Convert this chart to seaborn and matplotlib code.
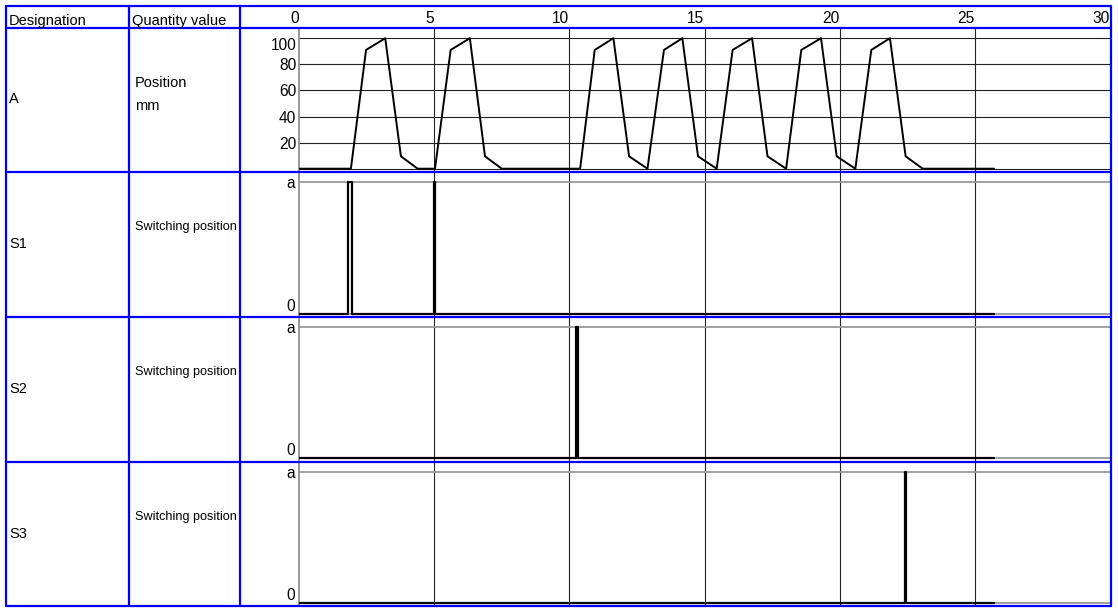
import numpy as np
import pandas as pd
import matplotlib
matplotlib.use("Agg")
import matplotlib.pyplot as plt
import seaborn as sns
from matplotlib.lines import Line2D

# ── Data ──
TIME_TICKS = [0, 5, 10, 15, 20, 25, 30]
END_TIME = 25.71

# Cylinder A position profile (time in s, position in mm)
a_time = [0,
          1.92, 2.48, 3.19, 3.77, 4.39,
          5.03, 5.61, 6.32, 6.88, 7.50,
          10.40, 10.94, 11.63, 12.21, 12.89,
          13.50, 14.18, 14.76, 15.45,
          16.04, 16.76, 17.33, 18.02,
          18.58, 19.31, 19.89, 20.58,
          21.17, 21.86, 22.44, 23.07,
          25.71]
a_pos = [0,
         0, 91, 100, 9.5, 0,
         0, 91, 100, 9.5, 0,
         0, 91, 100, 9.5, 0,
         91, 100, 9.5, 0,
         91, 100, 9.5, 0,
         91, 100, 9.5, 0,
         91, 100, 9.5, 0,
         0]
a_yticks = [20, 40, 60, 80, 100]

# Switch pulses: (on, off) times
s1_pulses = [(1.83, 1.95), (4.98, 5.02)]
s2_pulses = [(10.24, 10.31)]
s3_pulses = [(22.40, 22.46)]

designations = ["A", "S1", "S2", "S3"]
quantities = ["Position\nmm", "Switching position", "Switching position", "Switching position"]
headers = ["Designation", "Quantity value"]

# ── Layout in pixels ──
W, H = 1118, 612
X_PLOT0, X_PLOT1 = 299, 1110
ROWS = [6, 28.3, 171.7, 316.7, 461.5, 605.7]
COLS = [6, 128.7, 239.7, 1110.5]
BLUE = "#0000FF"

sns.set_style("white")
plt.rcParams["font.family"] = ["Liberation Sans", "DejaVu Sans"]
plt.rcParams.update({
    "font.size": 10.5,
    "text.color": "black",
    "xtick.labelcolor": "black",
    "ytick.labelcolor": "black",
    "xtick.labelsize": 11.2,
    "ytick.labelsize": 11.2,
})


def fx(x):
    return x / W


def fy(y):
    return 1 - y / H


def pulse_frame(pulses):
    t, v = [0], [0]
    for on, off in pulses:
        t += [on, off]
        v += [1, 0]
    t.append(END_TIME)
    v.append(0)
    return pd.DataFrame({"t": t, "v": v})


fig = plt.figure(figsize=(W / 100, H / 100), dpi=100)

axes = []
for i in range(4):
    top, bot = ROWS[i + 1], ROWS[i + 2]
    ax = fig.add_axes([fx(X_PLOT0), fy(bot), fx(X_PLOT1 - X_PLOT0), (bot - top) / H])
    ax.set_xlim(0, 30)
    for s in ["top", "right", "bottom"]:
        ax.spines[s].set_visible(False)
    ax.spines["left"].set_color("#888888")
    ax.spines["left"].set_linewidth(1.2)
    ax.tick_params(length=0)
    ax.set_xticks(TIME_TICKS)
    for t in TIME_TICKS[1:-1]:
        ax.axvline(t, color="#222222", lw=0.8, zorder=1)
    axes.append(ax)

# ── Panel A: position ──
ax = axes[0]
df_a = pd.DataFrame({"t": a_time, "pos": a_pos})
sns.lineplot(data=df_a, x="t", y="pos", ax=ax, color="black", lw=1.4,
             estimator=None, sort=False, zorder=3)
ax.set_ylim(-2.3, 107.6)
ax.set_yticks(a_yticks)
for yv in [0] + a_yticks:
    ax.axhline(yv, color="#222222", lw=0.8, zorder=1)
ax.xaxis.tick_top()
ax.set_xticklabels([str(t) for t in TIME_TICKS], ha="right")
ax.tick_params(axis="x", pad=1.5)
ax.tick_params(axis="y", pad=2)
ax.get_yticklabels()[-1].set_va("top")
ax.set_xlabel("")
ax.set_ylabel("")

# ── Switch panels ──
for ax, pulses in zip(axes[1:], [s1_pulses, s2_pulses, s3_pulses]):
    df_s = pulse_frame(pulses)
    for yv in [0, 1]:
        ax.axhline(yv, color="#999999", lw=1.3, zorder=1)
    sns.lineplot(data=df_s, x="t", y="v", ax=ax, color="black", lw=1.6,
                 estimator=None, sort=False, drawstyle="steps-post", zorder=3)
    ax.set_ylim(-0.023, 1.08)
    ax.set_yticks([0, 1])
    ax.set_yticklabels(["0", "a"])
    ax.get_yticklabels()[0].set_va("bottom")
    ax.tick_params(axis="y", pad=3)
    ax.set_xticklabels([])
    ax.set_xlabel("")
    ax.set_ylabel("")

# ── Blue table grid ──
for y in ROWS:
    fig.add_artist(Line2D([fx(COLS[0]), fx(COLS[-1])], [fy(y), fy(y)],
                          color=BLUE, lw=1.6, transform=fig.transFigure))
for x in COLS:
    fig.add_artist(Line2D([fx(x), fx(x)], [fy(ROWS[0]), fy(ROWS[-1])],
                          color=BLUE, lw=1.6, transform=fig.transFigure))

# ── Texts ──
fig.text(fx(9), fy(25), headers[0], va="baseline", ha="left")
fig.text(fx(132), fy(25), headers[1], va="baseline", ha="left")

for i, (d, q) in enumerate(zip(designations, quantities)):
    top, bot = ROWS[i + 1], ROWS[i + 2]
    mid = (top + bot) / 2
    if i == 0:
        fig.text(fx(9), fy(103), d, va="baseline", ha="left")
        first, second = q.split("\n")
        fig.text(fx(135), fy(87), first, va="baseline", ha="left")
        fig.text(fx(135), fy(110), second, va="baseline", ha="left")
    else:
        fig.text(fx(9), fy(mid + 4), d, va="baseline", ha="left")
        fig.text(fx(135), fy(mid - 14), q, va="baseline", ha="left", fontsize=9.1)

fig.savefig("out.png", dpi=100)
